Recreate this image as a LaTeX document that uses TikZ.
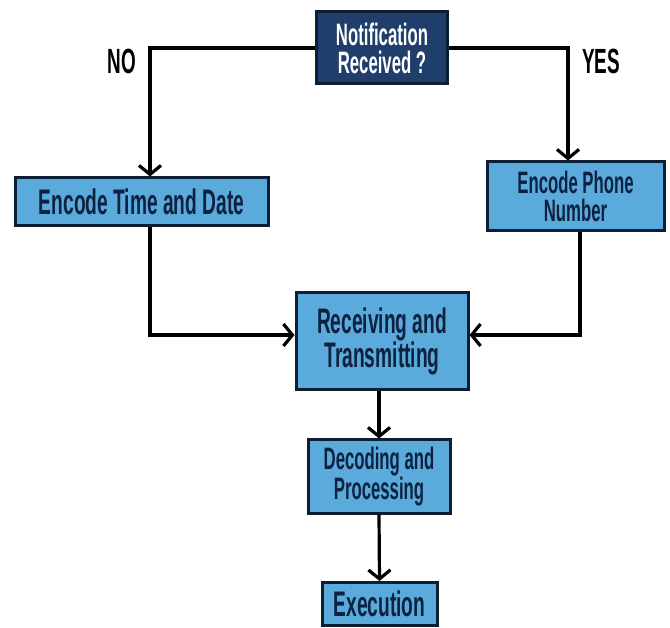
\documentclass[tikz,border=0pt]{standalone}
\usepackage{fontspec}
\setmainfont{Liberation Sans}[FakeStretch=0.54]
\usetikzlibrary{arrows.meta}
\definecolor{boxfill}{HTML}{5BAADC}
\definecolor{boxline}{HTML}{0B1E33}
\definecolor{topfill}{HTML}{1F3E6B}
\definecolor{txt}{HTML}{0D2240}
\tikzset{
  box/.style={draw=boxline, line width=3pt, fill=boxfill, text=txt, align=center, inner sep=0pt, font=\bfseries},
  big/.style={font=\bfseries\fontsize{35.5}{31}\selectfont},
  small/.style={font=\bfseries\fontsize{31}{28}\selectfont},
  arr/.style={line width=3.2pt, draw=black, -{Straight Barb[length=9pt,width=22pt,line width=3.2pt]}},
  lbl/.style={font=\bfseries\fontsize{35}{30}\selectfont, text=black}
}
\begin{document}
\begin{tikzpicture}[x=1pt,y=-1pt]
\useasboundingbox (0,0) rectangle (670,628);
\node[box, small, fill=topfill, text=white, minimum width=131pt, minimum height=72pt] (top) at (382,48) {Notification\\Received ?};
\node[box, big, minimum width=253pt, minimum height=48pt] (time) at (141.5,202) {Encode Time and Date};
\node[box, small, minimum width=177pt, minimum height=69pt] (phone) at (575.5,196.5) {Encode Phone\\Number};
\node[box, big, minimum width=172pt, minimum height=97pt] (recv) at (382,341.5) {Receiving and\\Transmitting};
\node[box, small, minimum width=142pt, minimum height=73pt] (dec) at (379,476.5) {Decoding and\\Processing};
\node[box, big, minimum width=115pt, minimum height=43pt] (exec) at (379.5,604) {Execution};
\node[lbl] (no) at (122,61) {NO};
\node[lbl] (yes) at (601,61) {YES};
\draw[arr] (top.west) -| ([xshift=8.5pt]time.north);
\draw[arr] (top.east) -| ([xshift=-7.5pt]phone.north);
\draw[arr] ([xshift=8.5pt]time.south) |- ([yshift=6.5pt]recv.west);
\draw[arr] ([xshift=4.5pt]phone.south) |- ([yshift=6.5pt]recv.east);
\draw[arr] ([xshift=-3pt]recv.south) -- (dec.north);
\draw[arr] (dec.south) -- (exec.north);
\end{tikzpicture}
\end{document}
